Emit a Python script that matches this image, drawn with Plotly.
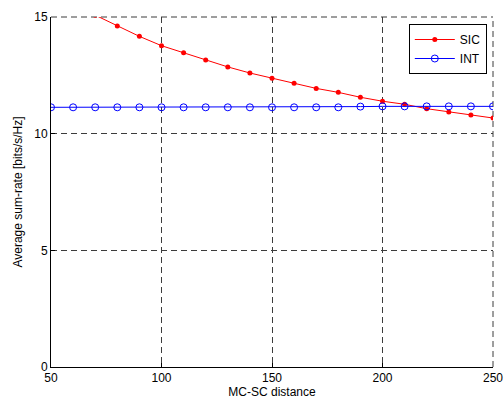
import plotly.graph_objects as go

# MC-SC distance samples
distance = [50, 60, 70, 80, 90, 100, 110, 120, 130, 140, 150,
            160, 170, 180, 190, 200, 210, 220, 230, 240, 250]

# Average sum-rate with successive interference cancellation
sic_rate = [16.20, 15.62, 15.08, 14.61, 14.17, 13.77, 13.47, 13.16, 12.86, 12.60, 12.37,
            12.16, 11.94, 11.77, 11.56, 11.39, 11.26, 11.07, 10.93, 10.80, 10.67]

# Average sum-rate treating interference as noise
int_rate = [11.13, 11.13, 11.13, 11.13, 11.13, 11.13, 11.13, 11.13, 11.13, 11.13, 11.13,
            11.13, 11.13, 11.13, 11.16, 11.17, 11.17, 11.17, 11.17, 11.17, 11.17]

x_ticks = [50, 100, 150, 200, 250]
y_ticks = [0, 5, 10, 15]

FONT = "Liberation Sans, Arial, sans-serif"
GRID_DASH = "6px,4px"
GRID_COLOR = "#3c3c3c"

fig = go.Figure()
fig.add_trace(go.Scatter(
    x=distance, y=sic_rate, name="SIC", mode="lines+markers",
    line=dict(color="#ff0000", width=1),
    marker=dict(symbol="circle", size=5, color="#ff0000"),
))
fig.add_trace(go.Scatter(
    x=distance, y=int_rate, name="INT", mode="lines+markers",
    line=dict(color="#0000ff", width=1),
    marker=dict(symbol="circle-open", size=7, color="#0000ff", line=dict(width=1)),
))

axis_common = dict(
    showgrid=True, gridcolor=GRID_COLOR, gridwidth=1, griddash=GRID_DASH,
    zeroline=False, showline=True, linecolor="#000000", linewidth=1,
    ticks="inside", ticklen=4, tickcolor="#000000",
    tickfont=dict(family=FONT, size=12, color="#000000"),
    title_font=dict(family=FONT, size=12, color="#000000"),
    automargin=False,
)

fig.update_xaxes(
    range=[50, 250], tickvals=x_ticks, title_text="MC-SC distance",
    title_standoff=2, **axis_common,
)
fig.update_yaxes(
    range=[0, 15], tickvals=y_ticks, title_text="Average sum-rate [bits/s/Hz]",
    title_standoff=9, **axis_common,
)

# Dashed top and right borders continue the grid pattern at the range ends
for x0, y0, x1, y1 in [(0, 1, 1, 1), (1, 0, 1, 1)]:
    fig.add_shape(
        type="line", xref="x domain", yref="y domain",
        x0=x0, y0=y0, x1=x1, y1=y1,
        line=dict(color=GRID_COLOR, width=1, dash=GRID_DASH), layer="below",
    )

fig.update_layout(
    width=504, height=403,
    margin=dict(l=51, r=11, t=17, b=36),
    paper_bgcolor="#ffffff", plot_bgcolor="#ffffff",
    font=dict(family=FONT, size=12, color="#000000"),
    legend=dict(
        x=0.986, y=0.98, xanchor="right", yanchor="top",
        bgcolor="#ffffff", bordercolor="#000000", borderwidth=1,
        font=dict(family=FONT, size=12, color="#000000"),
        tracegroupgap=0, itemwidth=40,
    ),
    showlegend=True,
)

fig.write_html("out.html")
